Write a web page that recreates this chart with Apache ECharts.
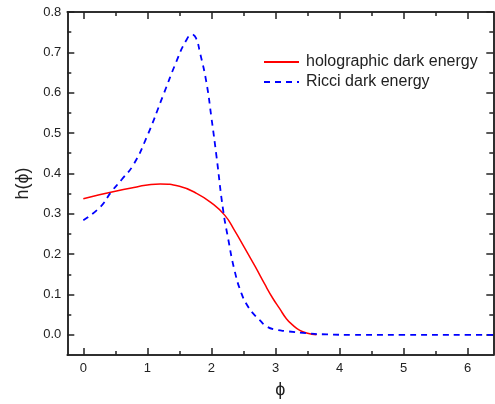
<!DOCTYPE html>
<html><head><meta charset="utf-8">
<script src="https://cdn.jsdelivr.net/npm/echarts@6/dist/echarts.min.js"></script>
<style>html,body{margin:0;padding:0;background:#fff}#c{width:495px;height:404px}</style>
</head><body><div id="c"></div>
<script>
const holoX = [0, 0.25, 0.5, 0.75, 1.0, 1.2, 1.5, 1.75, 2.0, 2.21, 2.36, 2.52, 2.68, 2.83, 2.96, 3.06, 3.17, 3.27, 3.38, 3.5, 3.64];
const holoY = [0.337, 0.347, 0.356, 0.364, 0.371, 0.374, 0.368, 0.352, 0.327, 0.296, 0.259, 0.215, 0.170, 0.126, 0.090, 0.066, 0.040, 0.024, 0.011, 0.004, 0.0];
const ricciX = [0, 0.26, 0.44, 0.6, 0.78, 0.99, 1.25, 1.45, 1.6, 1.7, 1.76, 1.82, 1.92, 2.0, 2.08, 2.18, 2.26, 2.36, 2.47, 2.57, 2.65, 2.75, 2.86, 3.0, 3.17, 3.48, 3.8, 4.2, 5.0, 6.0, 6.4];
const ricciY = [0.284, 0.316, 0.355, 0.385, 0.421, 0.490, 0.595, 0.676, 0.728, 0.744, 0.735, 0.700, 0.627, 0.538, 0.441, 0.312, 0.239, 0.160, 0.102, 0.070, 0.053, 0.037, 0.021, 0.013, 0.009, 0.004, 0.001, 0, 0, 0, 0];
const xMajor = [0, 1, 2, 3, 4, 5, 6];
const xMinor = [0.5, 1.5, 2.5, 3.5, 4.5, 5.5];
const yMajor = [0, 0.1, 0.2, 0.3, 0.4, 0.5, 0.6, 0.7, 0.8];
const yMinor = [0.05, 0.15, 0.25, 0.35, 0.45, 0.55, 0.65, 0.75];
const seriesNames = ['holographic dark energy', 'Ricci dark energy'];

const FONT = 'Liberation Sans, Arial, sans-serif';
const XMIN = -0.25, XMAX = 6.4, YMIN = -0.05, YMAX = 0.8;
const axisLine = {show: true, onZero: false, lineStyle: {color: '#222', width: 1.5}};

function xAx(pos, vals, len, labels) {
  return {
    type: 'value', position: pos, min: XMIN, max: XMAX,
    axisLine: axisLine,
    axisTick: {show: true, inside: true, length: len, customValues: vals, lineStyle: {color: '#222', width: 1.5}},
    axisLabel: labels ? {show: true, customValues: vals, margin: 7, fontSize: 13, color: '#222', fontFamily: FONT, formatter: v => String(Math.round(v))} : {show: false},
    splitLine: {show: false}
  };
}
function yAx(pos, vals, len, labels) {
  return {
    type: 'value', position: pos, min: YMIN, max: YMAX,
    axisLine: axisLine,
    axisTick: {show: true, inside: true, length: len, customValues: vals, lineStyle: {color: '#222', width: 1.5}},
    axisLabel: labels ? {show: true, customValues: vals, margin: 6, fontSize: 13, color: '#222', fontFamily: FONT, formatter: v => v.toFixed(1)} : {show: false},
    splitLine: {show: false}
  };
}

const xAxes = [xAx('bottom', xMajor, 7, true), xAx('bottom', xMinor, 4, false), xAx('top', xMajor, 7, false), xAx('top', xMinor, 4, false)];
xAxes[0].name = 'ϕ';
xAxes[0].nameLocation = 'middle';
xAxes[0].nameGap = 26;
xAxes[0].nameTextStyle = {fontSize: 18, color: '#222', fontFamily: FONT};
const yAxes = [yAx('left', yMajor, 7, true), yAx('left', yMinor, 4, false), yAx('right', yMajor, 7, false), yAx('right', yMinor, 4, false)];
yAxes[0].name = 'h(ϕ)';
yAxes[0].nameLocation = 'middle';
yAxes[0].nameGap = 35;
yAxes[0].nameTextStyle = {fontSize: 18, color: '#222', fontFamily: FONT};

const chart = echarts.init(document.getElementById('c'), null, {renderer: 'canvas'});
chart.setOption({
  animation: false,
  backgroundColor: '#fff',
  grid: {left: 67.3, right: 1.7, top: 12, bottom: 41.3, containLabel: false},
  xAxis: xAxes,
  yAxis: yAxes,
  legend: {
    left: 258, top: 49, orient: 'vertical', itemWidth: 35, itemHeight: 10, itemGap: 4,
    itemStyle: {opacity: 0},
    textStyle: {fontSize: 16, color: '#222', fontFamily: FONT, padding: [0, 0, 0, 2]},
    data: seriesNames
  },
  series: [
    {name: seriesNames[0], type: 'line', xAxisIndex: 0, yAxisIndex: 0, symbol: 'none', smooth: 0.5,
     lineStyle: {color: '#ff0000', width: 1.5}, itemStyle: {color: '#ff0000'},
     data: holoX.map((x, i) => [x, holoY[i]])},
    {name: seriesNames[1], type: 'line', xAxisIndex: 0, yAxisIndex: 0, symbol: 'none', smooth: 0.5,
     lineStyle: {color: '#0000ff', width: 1.8, type: [6, 5]}, itemStyle: {color: '#0000ff'},
     data: ricciX.map((x, i) => [x, ricciY[i]])}
  ]
});
</script>
</body></html>
